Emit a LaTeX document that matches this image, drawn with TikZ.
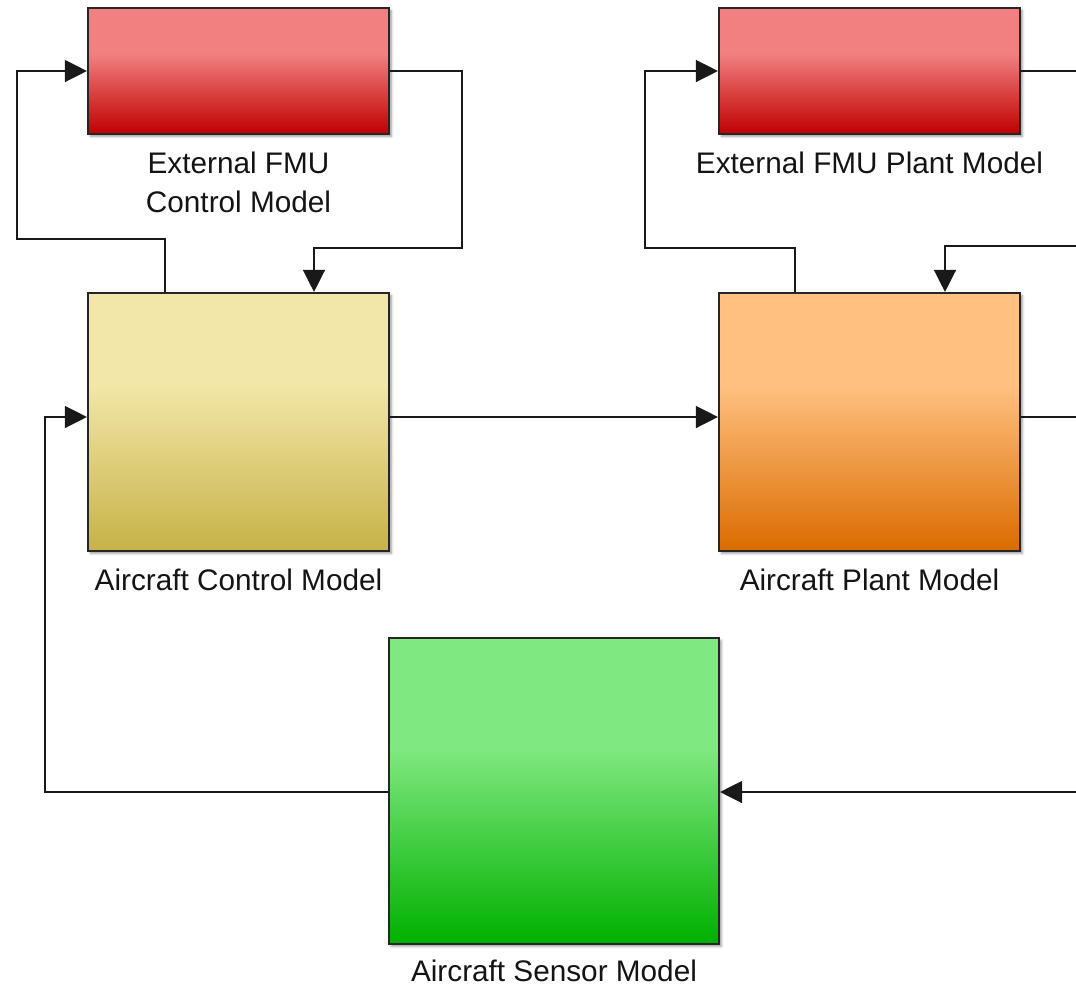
\documentclass[tikz,border=0pt]{standalone}
\usepackage{fontspec}
\setmainfont{Liberation Sans}
\usetikzlibrary{arrows.meta,shadows.blur}

% block colours (top / bottom of the gradient)
\definecolor{redT}{RGB}{242,128,128}
\definecolor{redB}{RGB}{192,0,0}
\definecolor{yelT}{RGB}{242,230,168}
\definecolor{yelB}{RGB}{198,178,72}
\definecolor{orT}{RGB}{255,192,128}
\definecolor{orB}{RGB}{218,108,0}
\definecolor{grT}{RGB}{128,232,128}
\definecolor{grB}{RGB}{0,176,0}
\definecolor{edge}{RGB}{38,38,38}
\definecolor{wirec}{RGB}{25,25,25}

% flat light top third, then a ramp down to the dark bottom
\pgfdeclareverticalshading{shRed}{100bp}{color(0bp)=(redB); color(25bp)=(redB); color(57bp)=(redT); color(100bp)=(redT)}
\pgfdeclareverticalshading{shYel}{100bp}{color(0bp)=(yelB); color(25bp)=(yelB); color(57bp)=(yelT); color(100bp)=(yelT)}
\pgfdeclareverticalshading{shOr}{100bp}{color(0bp)=(orB); color(25bp)=(orB); color(57bp)=(orT); color(100bp)=(orT)}
\pgfdeclareverticalshading{shGr}{100bp}{color(0bp)=(grB); color(25bp)=(grB); color(57bp)=(grT); color(100bp)=(grT)}

\tikzset{
  block/.style={rectangle, draw=edge, line width=1.6pt, shade, inner sep=0pt,
    blur shadow={shadow xshift=1.8pt, shadow yshift=-1.8pt, shadow blur radius=1.8pt, shadow opacity=40}},
  fmu/.style={block, shading=shRed, minimum width=225.75pt, minimum height=94.5pt},
  ctrlbox/.style={block, shading=shYel, minimum width=225.75pt, minimum height=193.5pt},
  plantbox/.style={block, shading=shOr, minimum width=225.75pt, minimum height=193.5pt},
  sensbox/.style={block, shading=shGr, minimum width=247.5pt, minimum height=229.5pt},
  lbl/.style={font=\fontsize{22.3pt}{29.25pt}\selectfont, align=center, anchor=base, inner sep=0pt, text=black!92},
  wire/.style={draw=wirec, line width=1pt},
  sig/.style={wire, -{Triangle[length=16.5pt,width=16.5pt]}},
}

\begin{document}
\begin{tikzpicture}[x=0.75pt, y=-0.75pt]
\useasboundingbox (0,0) rectangle (1076,986);

% blocks
\node[fmu]      (fmuc)   at (238.5,71)  {};
\node[fmu]      (fmup)   at (869.5,71)  {};
\node[ctrlbox]  (ctrl)   at (238.5,422) {};
\node[plantbox] (plant)  at (869.5,422) {};
\node[sensbox]  (sensor) at (554,791)   {};

% block names (a two-line node sits on its last baseline)
\node[lbl] (lfmuc)   at (238.5,212) {External FMU\\Control Model};
\node[lbl] (lfmup)   at (869.5,173) {External FMU Plant Model};
\node[lbl] (lctrl)   at (238.5,590) {Aircraft Control Model};
\node[lbl] (lplant)  at (869.5,590) {Aircraft Plant Model};
\node[lbl] (lsensor) at (554,981)   {Aircraft Sensor Model};

% routing points
\coordinate (row)  at (0,417);
\coordinate (t1)   at (165,239);
\coordinate (t2)   at (314,248);
\coordinate (t3)   at (795,248);
\coordinate (t4)   at (945,246);
\coordinate (e1)   at (1076,71);
\coordinate (e2)   at (1076,246);
\coordinate (e3)   at (1076,417);
\coordinate (e4)   at (1076,792);

% control model <-> external control FMU
\draw[sig] (t1 |- ctrl.north) -- (t1) -| (17,71) -- (fmuc.west);
\draw[sig] (fmuc.east) -| (462,248) -- (t2) -- (t2 |- ctrl.north);

% control -> plant
\draw[sig] (ctrl.east |- row) -- (plant.west |- row);

% plant model <-> external plant FMU
\draw[sig] (t3 |- plant.north) -- (t3) -| (645,71) -- (fmup.west);
\draw[wire] (fmup.east) -- (e1);
\draw[sig] (e2) -- (t4) -- (t4 |- plant.north);

% plant output and sensor loop
\draw[wire] (plant.east |- row) -- (e3);
\draw[sig] (e4) -- (e4 -| sensor.east);
\draw[sig] (e4 -| sensor.west) -| (45,417) -- (ctrl.west |- row);
\end{tikzpicture}
\end{document}
